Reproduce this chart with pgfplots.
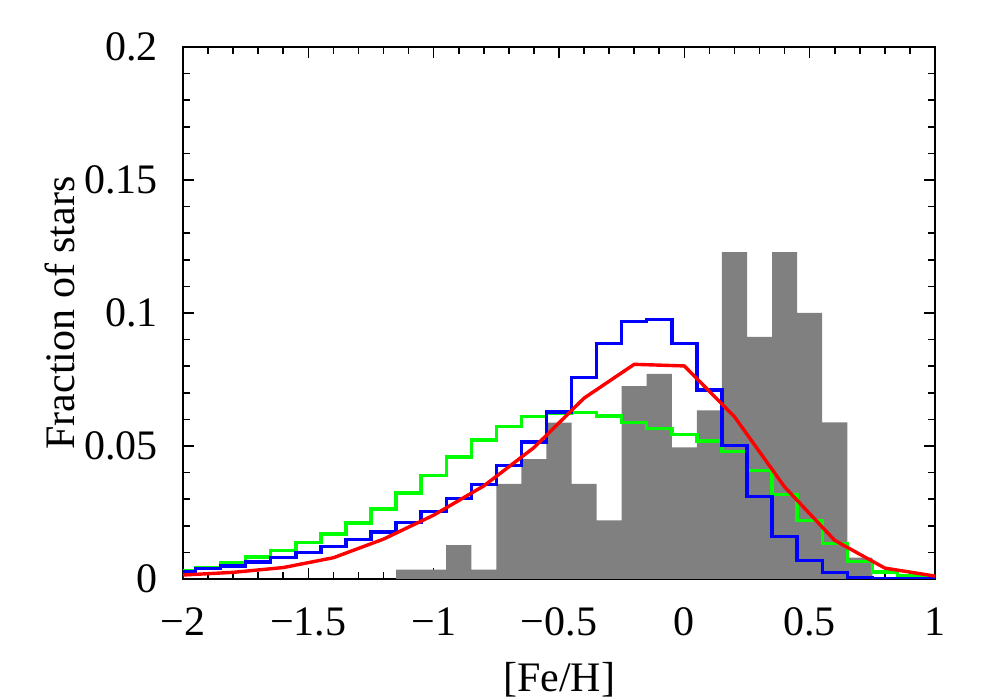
\documentclass[border=0pt]{standalone}
\usepackage{fontspec}
\setmainfont{Liberation Serif}
\usepackage{pgfplots}
\pgfplotsset{compat=1.18}
\definecolor{myred}{RGB}{255,0,0}
\definecolor{mygreen}{RGB}{0,255,0}
\definecolor{myblue}{RGB}{0,0,255}
\definecolor{mygray}{RGB}{128,128,128}
\begin{document}
\begin{tikzpicture}
\begin{axis}[
  scale only axis,
  width=376pt, height=266pt,
  xmin=-2, xmax=1, ymin=0, ymax=0.2,
  xtick={-2,-1.5,-1,-0.5,0,0.5,1},
  xticklabels={−2,−1.5,−1,−0.5,0,0.5,1},
  ytick={0,0.05,0.1,0.15,0.2},
  yticklabels={0,0.05,0.1,0.15,0.2},
  minor x tick num=4,
  minor y tick num=4,
  tick pos=both,
  tick align=inside,
  major tick length=5.5pt,
  minor tick length=3.5pt,
  every tick/.style={black, line width=0.8pt},
  axis line style={line width=1pt},
  ticklabel style={font=\fontsize{21}{25}\selectfont},
  xticklabel style={anchor=base, inner sep=0pt, yshift=-28pt},
  yticklabel style={anchor=east, inner sep=0pt, xshift=-12.5pt},
  every axis x label/.style={at={(axis description cs:0.5,-0.19)}, anchor=center, font=\fontsize{21}{25}\selectfont},
  every axis y label/.style={at={(axis description cs:-0.1636,0.5)}, rotate=90, anchor=center, font=\fontsize{21}{25}\selectfont},
  xlabel={[Fe/H]},
  ylabel={Fraction of stars},
  clip=true,
]
\addplot[ybar interval, fill=mygray, draw=none] coordinates {
(-1.15,0.0035) (-1.05,0.0035) (-0.95,0.0127) (-0.85,0.0035) (-0.75,0.0358)
(-0.65,0.0451) (-0.55,0.0588) (-0.45,0.0358) (-0.35,0.0220) (-0.25,0.0725)
(-0.15,0.0771) (-0.05,0.0495) (0.05,0.0634) (0.15,0.1229) (0.25,0.0910)
(0.35,0.1229) (0.45,0.1000) (0.55,0.0589) (0.65,0.0080) (0.75,0.0080)
};
\addplot[const plot, draw=mygreen, line width=1.7pt, mark=none] coordinates {
(-2.05,0.0030) (-1.95,0.0044) (-1.85,0.0063) (-1.75,0.0083) (-1.65,0.0108)
(-1.55,0.0137) (-1.45,0.0169) (-1.35,0.0211) (-1.25,0.0263) (-1.15,0.0323)
(-1.05,0.0390) (-0.95,0.0459) (-0.85,0.0523) (-0.75,0.0574) (-0.65,0.0612)
(-0.55,0.0624) (-0.45,0.0625) (-0.35,0.0613) (-0.25,0.0588) (-0.15,0.0565)
(-0.05,0.0543) (0.05,0.0519) (0.15,0.0480) (0.25,0.0408) (0.35,0.0318)
(0.45,0.0221) (0.55,0.0133) (0.65,0.0066) (0.75,0.0026) (0.85,0.0012)
(0.95,0.0008) (1.05,0.0008)
};
\addplot[const plot, draw=myblue, line width=1.7pt, mark=none] coordinates {
(-2.05,0.0026) (-1.95,0.0039) (-1.85,0.0049) (-1.75,0.0064) (-1.65,0.0080)
(-1.55,0.0100) (-1.45,0.0123) (-1.35,0.0149) (-1.25,0.0177) (-1.15,0.0212)
(-1.05,0.0253) (-0.95,0.0302) (-0.85,0.0356) (-0.75,0.0427) (-0.65,0.0515)
(-0.55,0.0628) (-0.45,0.0757) (-0.35,0.0885) (-0.25,0.0968) (-0.15,0.0976)
(-0.05,0.0886) (0.05,0.0711) (0.15,0.0501) (0.25,0.0310) (0.35,0.0160)
(0.45,0.0070) (0.55,0.0024) (0.65,0.0006) (0.75,0.0002) (0.85,0.0001)
(0.95,0.0000) (1.05,0.0000)
};
\addplot[draw=myred, line width=1.7pt, mark=none, line join=round] coordinates {
(-2.0,0.0015) (-1.8,0.0025) (-1.6,0.0043) (-1.4,0.0080) (-1.2,0.0150)
(-1.0,0.0240) (-0.8,0.0350) (-0.6,0.0494) (-0.4,0.0680) (-0.2,0.0807)
(0.0,0.0801) (0.2,0.0610) (0.4,0.0346) (0.6,0.0145) (0.8,0.0041)
(1.0,0.0011)
};
\end{axis}
\pgfresetboundingbox
\path (-91.5pt,-60.5pt) rectangle (408.5pt,289.5pt);
\end{tikzpicture}
\end{document}
